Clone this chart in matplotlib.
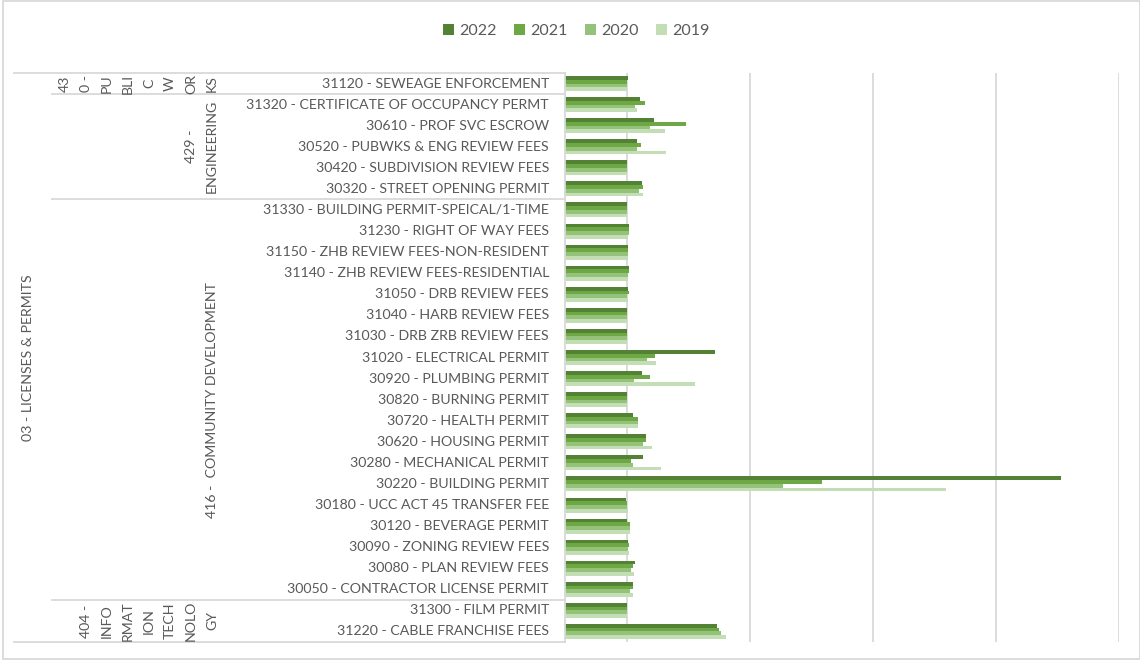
import matplotlib
matplotlib.use("Agg")
import matplotlib.pyplot as plt
from matplotlib.patches import Patch, Rectangle
from matplotlib.lines import Line2D
from matplotlib.transforms import blended_transform_factory
import numpy as np

# revenue lines, top to bottom
accounts = [
    "31120 - SEWEAGE ENFORCEMENT",
    "31320 - CERTIFICATE OF OCCUPANCY PERMT",
    "30610 - PROF SVC ESCROW",
    "30520 - PUBWKS & ENG REVIEW FEES",
    "30420 - SUBDIVISION REVIEW FEES",
    "30320 - STREET OPENING PERMIT",
    "31330 - BUILDING PERMIT-SPEICAL/1-TIME",
    "31230 - RIGHT OF WAY FEES",
    "31150 - ZHB REVIEW FEES-NON-RESIDENT",
    "31140 - ZHB REVIEW FEES-RESIDENTIAL",
    "31050 - DRB REVIEW FEES",
    "31040 - HARB REVIEW FEES",
    "31030 - DRB ZRB REVIEW FEES",
    "31020 - ELECTRICAL PERMIT",
    "30920 - PLUMBING PERMIT",
    "30820 - BURNING PERMIT",
    "30720 - HEALTH PERMIT",
    "30620 - HOUSING PERMIT",
    "30280 - MECHANICAL PERMIT",
    "30220 - BUILDING PERMIT",
    "30180 - UCC ACT 45 TRANSFER FEE",
    "30120 - BEVERAGE PERMIT",
    "30090 - ZONING REVIEW FEES",
    "30080 - PLAN REVIEW FEES",
    "30050 - CONTRACTOR LICENSE PERMIT",
    "31300 - FILM PERMIT",
    "31220 - CABLE FRANCHISE FEES",
]

# departments: (label text, first row, last row)
departments = [
    ("43\n0 -\nPU\nBLI\nC\nW\nOR\nKS", 0, 0),
    ("429 -\nENGINEERING", 1, 5),
    ("416 -  COMMUNITY DEVELOPMENT", 6, 24),
    ("404 -\nINFO\nRMAT\nION\nTECH\nNOLO\nGY", 25, 26),
]
category = "03 - LICENSES & PERMITS"

years = ["2022", "2021", "2020", "2019"]

# amounts in thousands of dollars
rev_2022 = [0.8, 11, 22, 8.4, 0, 12.2, 0, 2.2, 1.3, 2.2, 0.8, 0, 0, 71.6, 12.7,
            0, 4.9, 15.4, 13.5, 352.8, -0.8, 0.3, 1.4, 6.5, 4.9, 0, 73.8]
rev_2021 = [0.6, 15, 48, 12, 0, 13, 0, 2.2, 1.1, 2.2, 1.6, 0, 0, 23.5, 18.7,
            0, 9.7, 15.7, 3.8, 159, 0, 2.7, 2.0, 5.4, 5.4, 0, 75.4]
rev_2020 = [0, 6.5, 19, 8.1, 0, 10.5, 0, 2.0, 1.1, 1.1, 0.5, 0, 0, 17, 6.2,
            0, 9.5, 13.2, 5.4, 127.3, 0, 3.2, 1.1, 3.8, 3.2, 0, 77]
rev_2019 = [0, 8.6, 31.6, 32.4, 0, 13.5, 0, 0.8, 1.1, 1.3, 1.3, 0, 0, 24, 56,
            0, 9.7, 20.8, 27.8, 259.5, 1.3, 3.2, 1.6, 6.2, 4.9, 0, 80.8]

colors = ["#548235", "#6EA844", "#95C27A", "#C3DDB4"]
grey_text = "#595959"
grey_line = "#D9D9D9"

W, H = 1140, 660
plt.rcParams['font.family'] = ['Lato', 'DejaVu Sans']

fig = plt.figure(figsize=(W / 100, H / 100), dpi=100)

def fx(px):
    return px / W

def fy(py):
    return 1 - py / H

ax = fig.add_axes([fx(565), fy(642), fx(1119) - fx(565), fy(73) - fy(642)])

xmin, xmax = -50, 400
n = len(accounts)
y = np.arange(n)
h = 0.178
series = [rev_2022, rev_2021, rev_2020, rev_2019]
for k, (vals, c, lab) in enumerate(zip(series, colors, years)):
    vals = np.array(vals, dtype=float)
    off = (k - 1.5) * h
    # bars grow from the left edge of the value axis
    ax.barh(y + off, vals - xmin, left=xmin, height=h, color=c, label=lab,
            edgecolor='none', zorder=3)

ax.set_xlim(xmin, xmax)
ax.set_ylim(n - 0.5, -0.5)
ax.set_xticks([0, 100, 200, 300, 400])
ax.set_yticks([])
ax.tick_params(axis='x', length=0, labelbottom=False)
ax.grid(axis='x', color=grey_line, linewidth=1.3, zorder=0)
for s in ['top', 'right', 'bottom']:
    ax.spines[s].set_visible(False)
ax.spines['left'].set_color(grey_line)
ax.spines['left'].set_linewidth(1.3)
ax.spines['left'].set_zorder(4)

tr = blended_transform_factory(fig.transFigure, ax.transData)
fs = 10.2

# account labels
for i, name in enumerate(accounts):
    fig.text(fx(549), i, name, transform=tr, ha='right', va='center',
             fontsize=fs, color=grey_text)

# department labels and separators
for text, a, b in departments:
    fig.text(fx(218), (a + b) / 2, text, transform=tr, rotation=90,
             ha='right', va='center', multialignment='center',
             fontsize=fs, color=grey_text, linespacing=1.9)
for yb in [0.5, 5.5, 24.5]:
    fig.add_artist(Line2D([fx(52), fx(565)], [yb, yb], transform=tr,
                          color=grey_line, linewidth=1.3))
for yb in [-0.5, n - 0.5]:
    fig.add_artist(Line2D([fx(14), fx(565)], [yb, yb], transform=tr,
                          color=grey_line, linewidth=1.3))

fig.text(fx(28), (n - 1) / 2, category, transform=tr, rotation=90,
         ha='center', va='center', fontsize=fs, color=grey_text)

# legend
handles = [Patch(facecolor=c, edgecolor='none', label=l) for c, l in zip(colors, years)]
fig.legend(handles=handles, loc='center', ncol=4, frameon=False,
           bbox_to_anchor=(fx(576), fy(31)), fontsize=11.5, labelcolor=grey_text,
           handlelength=0.7, handleheight=0.7, handletextpad=0.3,
           columnspacing=1.1)

# chart border
fig.add_artist(Rectangle((fx(3), fy(659)), fx(1140) - fx(3), fy(1) - fy(659),
                         transform=fig.transFigure, fill=False,
                         edgecolor=grey_line, linewidth=1.3))

fig.savefig("out.png", dpi=100, facecolor='white')
